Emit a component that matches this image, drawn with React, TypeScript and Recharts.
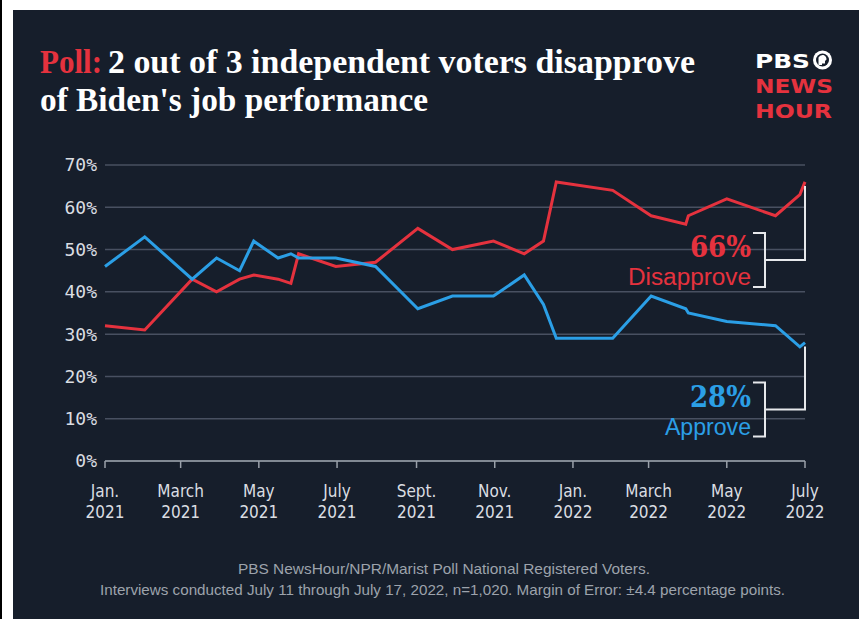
import React from 'react';
import {
  LineChart,
  Line,
  XAxis,
  YAxis,
  CartesianGrid,
  LabelList
} from 'recharts';

// poll dates, and the two series
const pollDates = [
  '2021-01-01', '2021-02-01', '2021-03-10', '2021-03-29', '2021-04-16', '2021-04-27',
  '2021-05-16', '2021-05-26', '2021-06-01', '2021-06-30', '2021-07-31', '2021-09-02',
  '2021-09-29', '2021-10-31', '2021-11-24', '2021-12-09', '2021-12-19', '2022-02-01',
  '2022-03-03', '2022-03-30', '2022-04-01', '2022-05-01', '2022-06-08', '2022-06-27',
  '2022-07-01'
];
const approve = [46, 53, 43, 48, 45, 52, 48, 49, 48, 48, 46, 36, 39, 39, 44, 37, 29, 29, 39, 36, 35, 33, 32, 27, 28];
const disapprove = [32, 31, 43, 40, 43, 44, 43, 42, 49, 46, 47, 55, 50, 52, 49, 52, 66, 64, 58, 56, 58, 62, 58, 63, 66];

const tickDates = [
  '2021-01-01', '2021-03-01', '2021-05-01', '2021-07-01', '2021-09-01',
  '2021-11-01', '2022-01-01', '2022-03-01', '2022-05-01', '2022-07-01'
];
const tickMonths = ['Jan.', 'March', 'May', 'July', 'Sept.', 'Nov.', 'Jan.', 'March', 'May', 'July'];
const tickYears = ['2021', '2021', '2021', '2021', '2021', '2021', '2022', '2022', '2022', '2022'];
const yTicks = [0, 10, 20, 30, 40, 50, 60, 70];

const BG = '#161e2b';
const RED = '#e5323e';
const BLUE = '#2b9fe6';
const GRID = '#485061';
const AXIS = '#9aa1aa';
const LIGHT = '#dadde2';

const toDay = (s: string) => (Date.parse(s) - Date.parse('2021-01-01')) / 86400000;
const tickDays = tickDates.map(toDay);
const lastDay = tickDays[tickDays.length - 1];

const rows = pollDates.map((d, i) => ({
  day: toDay(d),
  approve: approve[i],
  disapprove: disapprove[i]
}));

const XTick = (props: any) => {
  const { x, y, payload } = props;
  const i = tickDays.indexOf(payload.value);
  return (
    <g transform={`translate(${x},${y})`}>
      <text
        textAnchor="middle"
        fill={LIGHT}
        fontSize={17}
        fontFamily="'DejaVu Sans', sans-serif"
        style={{ fontStretch: 'condensed' }}
      >
        <tspan x={0} dy={27}>{tickMonths[i]}</tspan>
        <tspan x={0} dy={21}>{tickYears[i]}</tspan>
      </text>
    </g>
  );
};

// bracket + connector annotation drawn at the last point of a series
const endNote = (color: string, word: string, drop: number, last: number) => (props: any) => {
  const { x, y, value, index } = props;
  if (index !== last) return null;
  const mid = y + drop;
  const bx = x - 40;
  return (
    <g>
      <polyline points={`${x},${y + 4} ${x},${mid} ${bx},${mid}`} fill="none" stroke="#e6e8eb" strokeWidth={2} />
      <polyline
        points={`${bx - 12},${mid - 27} ${bx},${mid - 27} ${bx},${mid + 27} ${bx - 12},${mid + 27}`}
        fill="none"
        stroke="#e6e8eb"
        strokeWidth={2}
      />
      <text x={bx - 14} y={mid - 3} textAnchor="end" fill={color} fontSize={29} fontWeight={700} fontFamily="'DejaVu Serif', serif" style={{ fontStretch: 'condensed' }}>
        {value}%
      </text>
      <text x={bx - 14} y={mid + 25} textAnchor="end" fill={color} fontSize={23} fontFamily="'Liberation Sans', sans-serif" textLength={word.length * 12.3} lengthAdjust="spacingAndGlyphs">
        {word}
      </text>
    </g>
  );
};

const last = rows.length - 1;

const App: React.FC = () => {
  return (
    <div style={{ position: 'absolute', left: 0, top: 0, width: 859, height: 619, background: '#fff', overflow: 'hidden' }}>
      <div style={{ position: 'absolute', left: 0, top: 0, width: 2, height: 619, background: '#000' }} />
      <div style={{ position: 'absolute', left: 13, top: 10, width: 846, height: 609, background: BG }} />
      <LineChart
        width={859}
        height={619}
        data={rows}
        margin={{ top: 165, right: 54, bottom: 98, left: 45 }}
        style={{ position: 'absolute', left: 0, top: 0 }}
      >
        <CartesianGrid vertical={false} stroke={GRID} strokeWidth={1.5} />
        <XAxis
          dataKey="day"
          type="number"
          domain={[0, lastDay]}
          ticks={tickDays}
          interval={0}
          height={60}
          tickSize={7}
          axisLine={{ stroke: AXIS, strokeWidth: 1.5 }}
          tickLine={{ stroke: AXIS, strokeWidth: 1.5 }}
          tick={<XTick />}
        />
        <YAxis
          type="number"
          domain={[0, 70]}
          ticks={yTicks}
          width={60}
          axisLine={false}
          tickLine={false}
          tickFormatter={(v: number) => `${v}%`}
          tick={{ fill: LIGHT, fontSize: 18, fontFamily: "'DejaVu Sans Mono', monospace" }}
        />
        <Line
          type="linear"
          dataKey="disapprove"
          stroke={RED}
          strokeWidth={3}
          dot={false}
          isAnimationActive={false}
        >
          <LabelList dataKey="disapprove" content={endNote(RED, 'Disapprove', 78, last)} />
        </Line>
        <Line
          type="linear"
          dataKey="approve"
          stroke={BLUE}
          strokeWidth={3}
          dot={false}
          isAnimationActive={false}
        >
          <LabelList dataKey="approve" content={endNote(BLUE, 'Approve', 67, last)} />
        </Line>
      </LineChart>
      <svg width={859} height={619} style={{ position: 'absolute', left: 0, top: 0, pointerEvents: 'none' }}>
        <g fontFamily="'Liberation Serif', serif" fontWeight={700} fontSize={34}>
          <text x={40} y={73} fill={RED} textLength={62} lengthAdjust="spacingAndGlyphs">Poll:</text>
          <text x={108} y={73} fill="#fff" textLength={587} lengthAdjust="spacingAndGlyphs">2 out of 3 independent voters disapprove</text>
          <text x={40} y={111} fill="#fff" textLength={388} lengthAdjust="spacingAndGlyphs">of Biden's job performance</text>
        </g>
        {/* logo */}
        <g fontFamily="'DejaVu Sans', sans-serif" fontWeight={700} fontSize={20} style={{ fontStretch: 'condensed' }}>
          <text x={755} y={68} fill="#fff" textLength={55} lengthAdjust="spacingAndGlyphs">PBS</text>
          <text x={755} y={93} fill={RED} textLength={78} lengthAdjust="spacingAndGlyphs">NEWS</text>
          <text x={755} y={118} fill={RED} textLength={77} lengthAdjust="spacingAndGlyphs">HOUR</text>
        </g>
        <circle cx={822.5} cy={60} r={9.5} fill="#fff" />
        <circle cx={822.5} cy={60} r={6.5} fill={BG} />
        <path d="M818.5 65 L818.5 57.5 Q820 54.5 823.5 55 Q826.5 56 826.5 59.5 L825 61 L825 63.5 L822 63.5 L822 65 Z" fill="#fff" />
        {/* footer */}
        <g fontSize={15} fill="#9da3ac" fontFamily="'Liberation Sans', sans-serif">
          <text x={238} y={574} textLength={412} lengthAdjust="spacingAndGlyphs">
            PBS NewsHour/NPR/Marist Poll National Registered Voters.
          </text>
          <text x={100} y={595} textLength={685} lengthAdjust="spacingAndGlyphs">
            Interviews conducted July 11 through July 17, 2022, n=1,020. Margin of Error: ±4.4 percentage points.
          </text>
        </g>
      </svg>
    </div>
  );
};

export default App;
